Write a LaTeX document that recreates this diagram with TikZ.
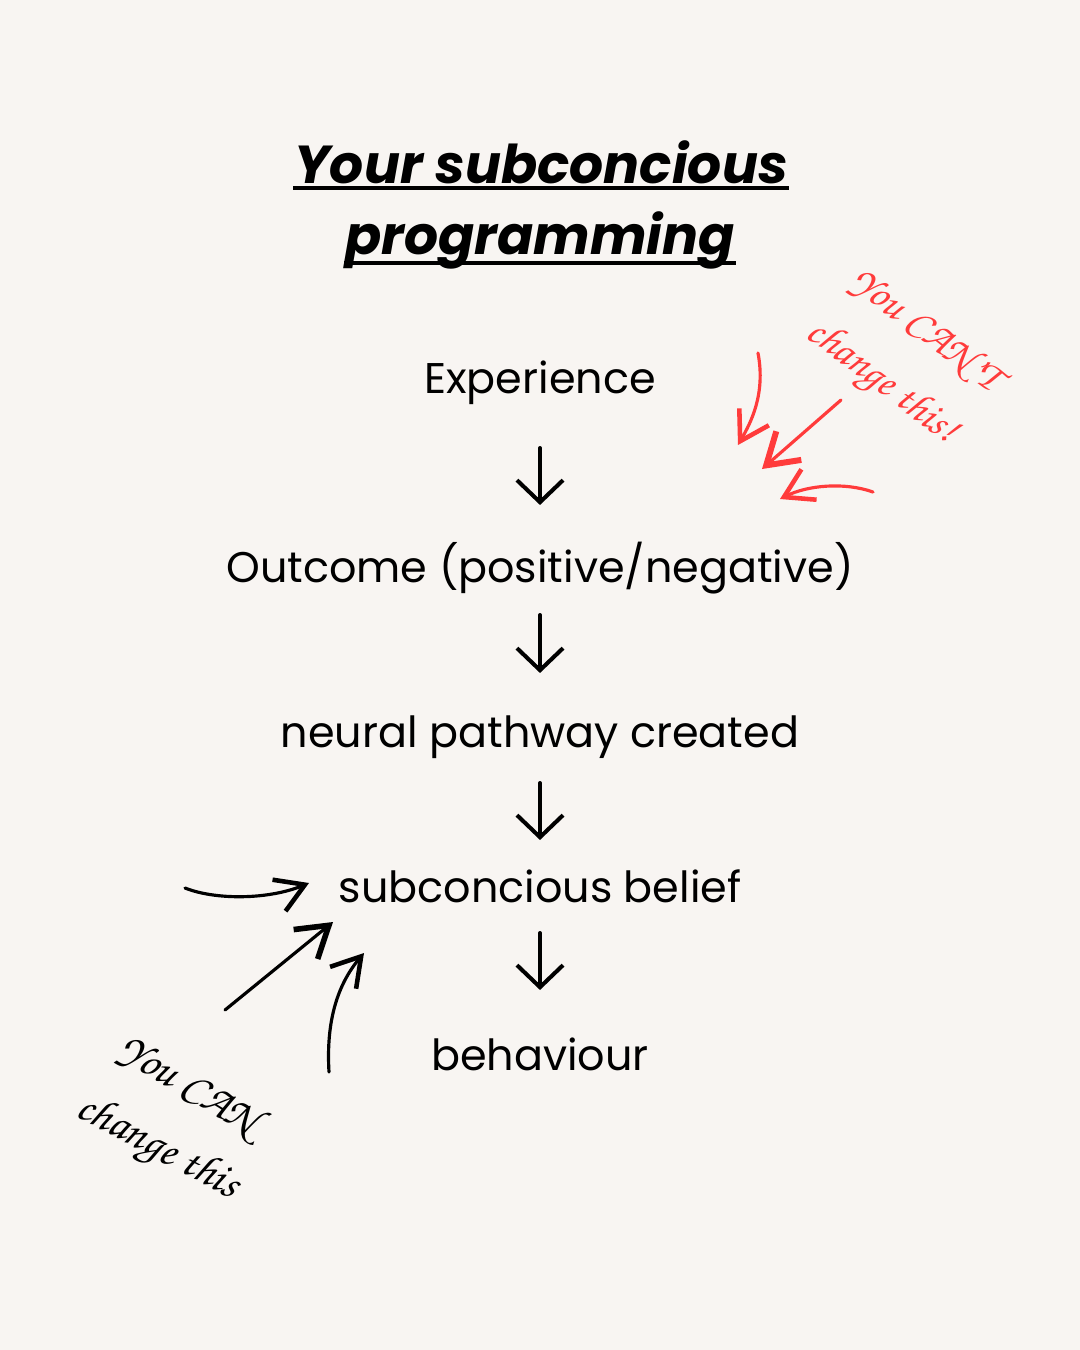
\documentclass[tikz,border=0pt]{standalone}
\usepackage[T1]{fontenc}
\usepackage{fontspec}
\setmainfont{Poppins}
\usepackage{tikz}
\usetikzlibrary{arrows.meta,calc,positioning}

\definecolor{paper}{HTML}{F8F5F2}
\definecolor{pen}{HTML}{FF3B3B}
\newcommand{\handfont}{\fontencoding{T1}\fontfamily{pzc}\fontseries{m}\fontshape{it}\selectfont}

\begin{document}
\begin{tikzpicture}[
    x=0.01cm,
    y=-0.01cm,
    font=\fontsize{12.2pt}{14pt}\selectfont,
    title/.style={inner sep=0pt,font=\fontsize{15.2pt}{18pt}\selectfont\bfseries\itshape},
    item/.style={inner sep=0pt},
    flow/.style={-{Straight Barb[length=2.2mm,width=4.6mm]},
                 line width=1.15pt,line cap=round},
    uline/.style={line width=1.3pt},
    hand/.style={inner sep=0pt,font=\handfont\fontsize{12pt}{14pt}\selectfont},
    scrawl/.style={-{Straight Barb[length=2.8mm,width=3.4mm,line width=1.3pt]},
                   line width=0.9pt,line cap=round}
]

\fill[paper] (0,0) rectangle (1080,1350);
\useasboundingbox (0,0) rectangle (1080,1350);

% title
\node[title,anchor=base] (title1) at (541,183) {Your subconcious};
\node[title,anchor=base] (title2) at (540,254) {programming};
\draw[uline] ([yshift=-0.05cm]title1.base west) -- ([yshift=-0.05cm]title1.base east);
\draw[uline] ([yshift=-0.09cm]title2.base west) -- ([yshift=-0.09cm]title2.base east);

% chain
\node[item] (exp)    at (540,383)  {Experience};
\node[item] (outc)   at (540,568)  {Outcome (positive/negative)};
\node[item] (path)   at (540,737)  {neural pathway created};
\node[item] (belief) at (540,886)  {subconcious belief};
\node[item] (behav)  at (540,1054) {behaviour};

\draw[flow] ([yshift=-0.65cm]exp.center)    -- ([yshift=0.63cm]outc.center);
\draw[flow] ([yshift=-0.47cm]outc.center)   -- ([yshift=0.64cm]path.center);
\draw[flow] ([yshift=-0.46cm]path.center)   -- ([yshift=0.46cm]belief.center);
\draw[flow] ([yshift=-0.47cm]belief.center) -- ([yshift=0.64cm]behav.center);

% red note
\node[hand,text=pen,rotate=-37] (cant1) at (926,330) {You CAN'T};
\node[hand,text=pen,rotate=-37] (cant2) at (881,383) {change this!};

\coordinate (r1s) at (758,353);
\coordinate (r1e) at (738,445);
\coordinate (r2s) at (841,400);
\coordinate (r2e) at (762,469);
\coordinate (r3s) at (873,492);
\coordinate (r3e) at (780,499);

\draw[scrawl,pen] (r1s) .. controls (766,395) and (750,424) .. (r1e);
\draw[scrawl,pen,-{Straight Barb[length=3mm,width=3.8mm,line width=1.7pt]}] (r2s) -- (r2e);
\draw[scrawl,pen] (r3s) .. controls (845,482) and (808,485) .. (r3e);

% black note
\node[hand,font=\handfont\fontsize{12.8pt}{15pt}\selectfont,rotate=-31] (can1) at (189,1086) {You CAN};
\node[hand,font=\handfont\fontsize{12.8pt}{15pt}\selectfont,rotate=-28] (can2) at (157,1149) {change this};

\coordinate (b1s) at (185,888);
\coordinate (b1e) at (309,883);
\coordinate (b2s) at (225,1010);
\coordinate (b2e) at (333,922);
\coordinate (b3s) at (329,1072);
\coordinate (b3e) at (364,953);

\draw[scrawl] (b1s) .. controls (215,900) and (268,900) .. (b1e);
\draw[scrawl,-{Straight Barb[length=3mm,width=3.8mm,line width=1.6pt]}] (b2s) -- (b2e);
\draw[scrawl] (b3s) .. controls (326,1022) and (337,985) .. (b3e);

\end{tikzpicture}
\end{document}
